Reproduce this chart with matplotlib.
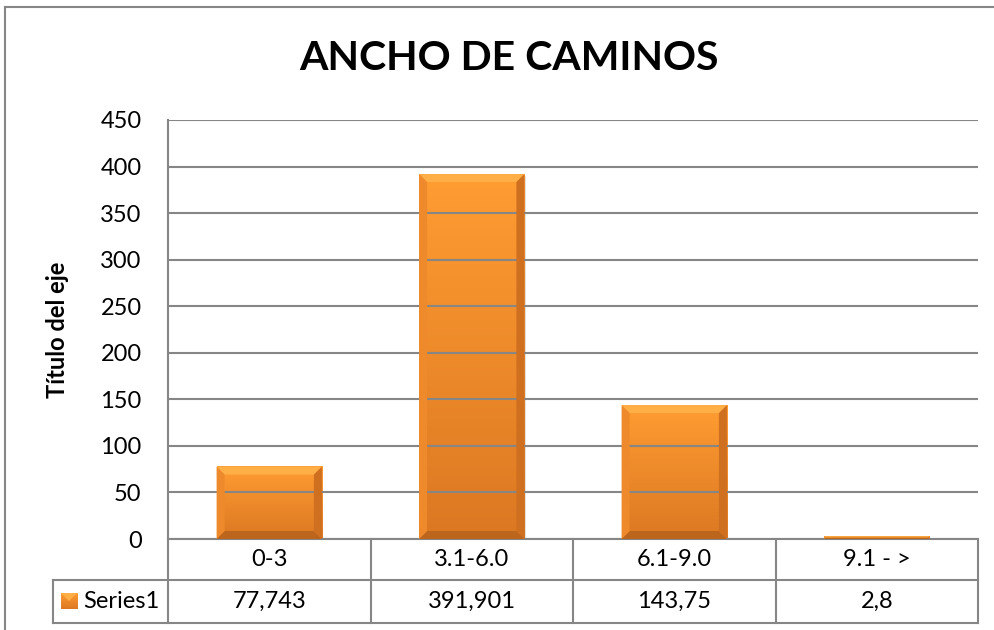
import numpy as np
import matplotlib.pyplot as plt
from matplotlib.patches import Polygon, Rectangle
from matplotlib.lines import Line2D
from matplotlib.colors import LinearSegmentedColormap

categories = ['0-3', '3.1-6.0', '6.1-9.0', '9.1 - >']
values = [77.743, 391.901, 143.75, 2.8]
series_name = 'Series1'
title = 'ANCHO DE CAMINOS'
ylabel = 'Título del eje'
yticks = [0, 50, 100, 150, 200, 250, 300, 350, 400, 450]

W, H = 994, 630
plt.rcParams['font.family'] = ['Lato', 'DejaVu Sans']
fig = plt.figure(figsize=(W / 100, H / 100), dpi=100)

# plot area in pixels
x0, x1 = 168, 978
ytop, ybot = 120, 539
ax = fig.add_axes([x0 / W, 1 - ybot / H, (x1 - x0) / W, (ybot - ytop) / H])
n = len(categories)
ax.set_yticks(yticks)
ax.tick_params(axis='y', length=0, labelsize=17, pad=19)
ax.set_xticks([])
for s in ['top', 'right']:
    ax.spines[s].set_visible(False)
for s in ['left', 'bottom']:
    ax.spines[s].set_color('#868686')
    ax.spines[s].set_linewidth(1.5)
ax.yaxis.grid(True, color='#868686', linewidth=1.5, zorder=5)
ax.set_axisbelow(False)

# bevelled bars
px_x = n / (x1 - x0)
px_y = 450 / (ybot - ytop)
width = 0.52
grad = np.linspace(0, 1, 100).reshape(-1, 1)
cmap = LinearSegmentedColormap.from_list('o', ['#DC7822', '#FF9C32'])
for i, v in enumerate(values):
    l, r = i - width / 2, i + width / 2
    # shadow
    ax.add_patch(Rectangle((l + 1.5 * px_x, -1.5 * px_y), r - l, v, color='#000000', alpha=0.12, lw=0, zorder=1))
    ax.imshow(grad, extent=(l, r, 0, v), cmap=cmap, aspect='auto', origin='lower', zorder=2)
    b = min(8, v / px_y / 2)
    bx, by = b * px_x, b * px_y
    ax.add_patch(Polygon([(l, v), (r, v), (r - bx, v - by), (l + bx, v - by)], color='#FFAF45', lw=0, zorder=3))
    ax.add_patch(Polygon([(l, 0), (r, 0), (r - bx, by), (l + bx, by)], color='#BC651D', lw=0, zorder=3))
    ax.add_patch(Polygon([(l, 0), (l, v), (l + bx, v - by), (l + bx, by)], color='#EE8A2C', lw=0, zorder=3))
    ax.add_patch(Polygon([(r, 0), (r, v), (r - bx, v - by), (r - bx, by)], color='#CF6F20', lw=0, zorder=3))
ax.set_xlim(-0.5, n - 0.5)
ax.set_ylim(0, 450)

ax.text(-0.136, 0.5, ylabel, transform=ax.transAxes, rotation=90, fontsize=17,
        fontweight='bold', ha='center', va='center')
fig.text(509 / W, 1 - 58 / H, title, fontsize=29.5, fontweight='bold',
         ha='center', va='center')


def fx(px):
    return px / W


def fy(py):
    return 1 - py / H


gray = '#868686'
# outer frame (left and top only, rest lies outside image)
fig.add_artist(Line2D([fx(5), fx(5)], [fy(7), fy(H + 5)], color=gray, lw=1.5))
fig.add_artist(Line2D([fx(5), fx(W + 5)], [fy(7), fy(7)], color=gray, lw=1.5))

# data table
r1, r2, r3 = ybot, 580, 623
lx = 53
colw = (x1 - x0) / n
fig.add_artist(Line2D([fx(lx), fx(x1)], [fy(r2), fy(r2)], color=gray, lw=1.5))
fig.add_artist(Line2D([fx(lx), fx(x1)], [fy(r3), fy(r3)], color=gray, lw=1.5))
fig.add_artist(Line2D([fx(lx), fx(lx)], [fy(r2), fy(r3)], color=gray, lw=1.5))
for k in range(n + 1):
    xx = x0 + k * colw
    fig.add_artist(Line2D([fx(xx), fx(xx)], [fy(r1), fy(r3)], color=gray, lw=1.5))
for k, (c, v) in enumerate(zip(categories, values)):
    cx = x0 + (k + 0.5) * colw
    fig.text(fx(cx), fy((r1 + r2) / 2), c, fontsize=17, ha='center', va='center')
    fig.text(fx(cx), fy((r2 + r3) / 2), str(v).replace('.', ','), fontsize=17, ha='center', va='center')

# legend key
kax = fig.add_axes([fx(61), fy(609), fx(16), 16 / H])
kax.imshow(grad, extent=(0, 1, 0, 1), cmap=cmap, aspect='auto', origin='lower')
kax.add_patch(Polygon([(0, 1), (1, 1), (0.5, 0.5)], color='#FFAF45', lw=0))
kax.set_xlim(0, 1)
kax.set_ylim(0, 1)
kax.axis('off')
fig.text(fx(83), fy((r2 + r3) / 2), series_name, fontsize=17, ha='left', va='center')

fig.savefig('out.png', dpi=100)
